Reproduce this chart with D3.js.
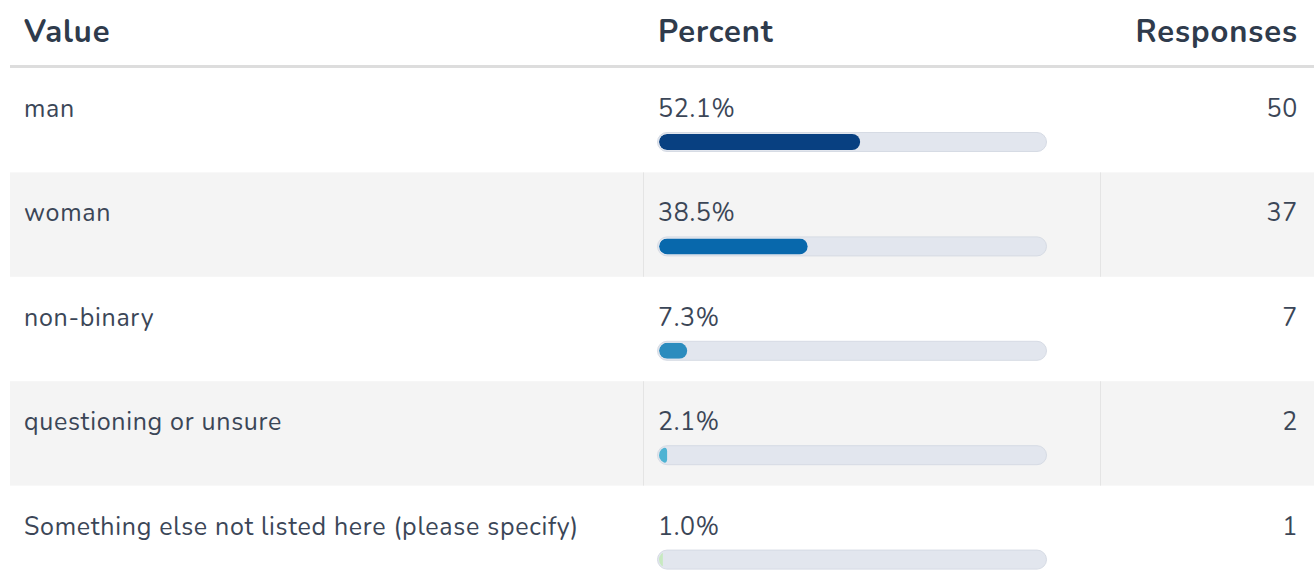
<!DOCTYPE html>
<html>
<head>
<meta charset="utf-8">
<script src="https://cdn.jsdelivr.net/npm/d3@7"></script>
<style>
  html, body { margin: 0; padding: 0; background: #fff; }
  svg { display: block; font-family: "Nunito", Lato, "Noto Sans", sans-serif; }
</style>
</head>
<body>
<div id="chart"></div>
<script>
const categories = ["man", "woman", "non-binary", "questioning or unsure", "Something else not listed here (please specify)"]
const percents = [52.1, 38.5, 7.3, 2.1, 1.0]
const responses = [50, 37, 7, 2, 1]
const barColors = ["#084081", "#0868ac", "#2b8cbe", "#4eb3d3", "#c7e9c0"]
const headers = ["Value", "Percent", "Responses"]

const width = 1314,
    height = 570,
    left = 10,
    headerH = 68,
    rowH = 104.4;

const svg = d3.select("#chart")
    .append("svg")
    .attr("width", width)
    .attr("height", height)

const y = d3.scaleBand()
    .domain(categories)
    .range([headerH, headerH + rowH * categories.length])
    .padding(0)

const barX = 657,
    barW = 390,
    barH = 20;

const x = d3.scaleLinear()
    .domain([0, 100])
    .range([0, barW - 4])

const textColor = "#3b4657",
    headColor = "#2f3b4c";

// header
const head = svg.append("g")
head.selectAll("text")
    .data(headers)
    .enter()
    .append("text")
    .attr("x", (d, i) => [24, 658, 1298][i])
    .attr("y", 42)
    .attr("text-anchor", (d, i) => i === 2 ? "end" : "start")
    .attr("font-weight", "bold")
    .attr("font-size", "31px")
    .attr("letter-spacing", "0.9px")
    .attr("fill", headColor)
    .text(d => d)

head.append("rect")
    .attr("x", left)
    .attr("y", 65)
    .attr("width", width - left)
    .attr("height", 3)
    .attr("fill", "#dddddd")

const rows = svg.selectAll(".row")
    .data(categories.map((c, i) => ({ cat: c, pct: percents[i], n: responses[i], color: barColors[i], i })))
    .enter()
    .append("g")
    .attr("class", "row")
    .attr("transform", d => `translate(0, ${ y(d.cat) })`)

// striped background
rows.filter(d => d.i % 2 === 1)
    .append("rect")
    .attr("x", left)
    .attr("y", 0)
    .attr("width", width - left)
    .attr("height", y.bandwidth())
    .attr("fill", "#f4f4f4")

rows.filter(d => d.i % 2 === 1)
    .selectAll(".sep")
    .data([643, 1100])
    .enter()
    .append("rect")
    .attr("x", d => d)
    .attr("y", 0)
    .attr("width", 1)
    .attr("height", y.bandwidth())
    .attr("fill", "#e4e4e4")

const cellText = (sel) => sel
    .attr("y", 49)
    .attr("font-size", "25px")
    .attr("letter-spacing", "0.7px")
    .attr("fill", textColor)

rows.append("text")
    .call(cellText)
    .attr("x", 24)
    .text(d => d.cat)

rows.append("text")
    .call(cellText)
    .attr("x", 658)
    .text(d => d.pct.toFixed(1) + "%")

rows.append("text")
    .call(cellText)
    .attr("x", 1298)
    .attr("text-anchor", "end")
    .text(d => d.n)

// bar track
rows.append("rect")
    .attr("x", barX + 0.5)
    .attr("y", 64.5)
    .attr("width", barW - 1)
    .attr("height", barH - 1)
    .attr("rx", 9.5)
    .attr("fill", "#e2e6ee")
    .attr("stroke", "#d6dbe4")
    .attr("stroke-width", 1)

rows.append("clipPath")
    .attr("id", d => "clip-" + d.i)
    .append("rect")
    .attr("x", barX + 2)
    .attr("y", 66)
    .attr("width", barW - 4)
    .attr("height", barH - 4)
    .attr("rx", 8)

rows.append("rect")
    .attr("clip-path", d => `url(#clip-${ d.i })`)
    .attr("x", barX + 2)
    .attr("y", 66)
    .attr("width", d => x(d.pct))
    .attr("height", barH - 4)
    .attr("rx", d => Math.min(8, x(d.pct) / 2))
    .attr("fill", d => d.color)
</script>
</body>
</html>
